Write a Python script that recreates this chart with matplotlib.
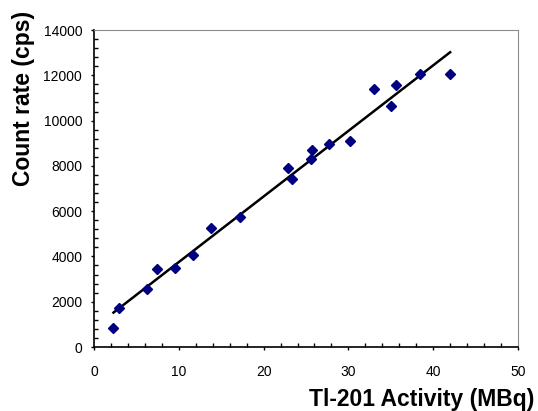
import numpy as np
import matplotlib.pyplot as plt
from matplotlib.ticker import MultipleLocator

plt.rcParams['font.family'] = ['Liberation Sans', 'DejaVu Sans']

# 活度 (MBq) 与计数率 (cps)
activity = [2.3, 3.0, 6.2, 7.4, 9.6, 11.7, 13.8, 17.2, 22.9, 23.4,
            25.6, 25.7, 27.75, 30.2, 33.0, 35.0, 35.65, 38.5, 42.0]
count_rate = [850, 1710, 2580, 3460, 3480, 4050, 5240, 5760, 7890, 7440,
              8320, 8700, 8950, 9110, 11380, 10630, 11570, 12060, 12060]

x = np.array(activity)
y = np.array(count_rate)

# 线性拟合
k, b = np.polyfit(x, y, 1)
xf = np.array([x.min(), x.max()])

fig = plt.figure(figsize=(5.38, 4.11), dpi=100)
ax = fig.add_axes([0.1747, 0.1557, 0.7881, 0.7713])

ax.plot(xf, k * xf + b, color='black', lw=1.8, zorder=2)
ax.plot(x, y, ls='none', marker='D', ms=5.5, color='#000080', zorder=3)

ax.set_xlim(0, 50)
ax.set_ylim(0, 14000)
ax.xaxis.set_major_locator(MultipleLocator(10))
ax.xaxis.set_minor_locator(MultipleLocator(2))
ax.yaxis.set_major_locator(MultipleLocator(2000))
ax.yaxis.set_minor_locator(MultipleLocator(400))
ax.tick_params(which='major', direction='out', length=2.5, width=1, labelsize=10, color='black')
ax.tick_params(axis='x', which='major', pad=10.5)
ax.tick_params(axis='y', which='major', pad=6)
ax.tick_params(which='minor', direction='in', length=3, width=1, color='black')

for s in ['top', 'right']:
    ax.spines[s].set_color('#8c8c8c')
for s in ['left', 'bottom']:
    ax.spines[s].set_color('black')
    ax.spines[s].set_linewidth(1.2)

# 坐标轴标题
fig.text(534 / 538, 1 - 399 / 411, 'Tl-201 Activity (MBq)', fontsize=16.5,
         fontweight='bold', ha='right', va='center')
fig.text(24 / 538, 1 - 98 / 411, 'Count rate (cps)', fontsize=16.5,
         fontweight='bold', ha='center', va='center', rotation=90)

fig.savefig('out.png', dpi=100)
